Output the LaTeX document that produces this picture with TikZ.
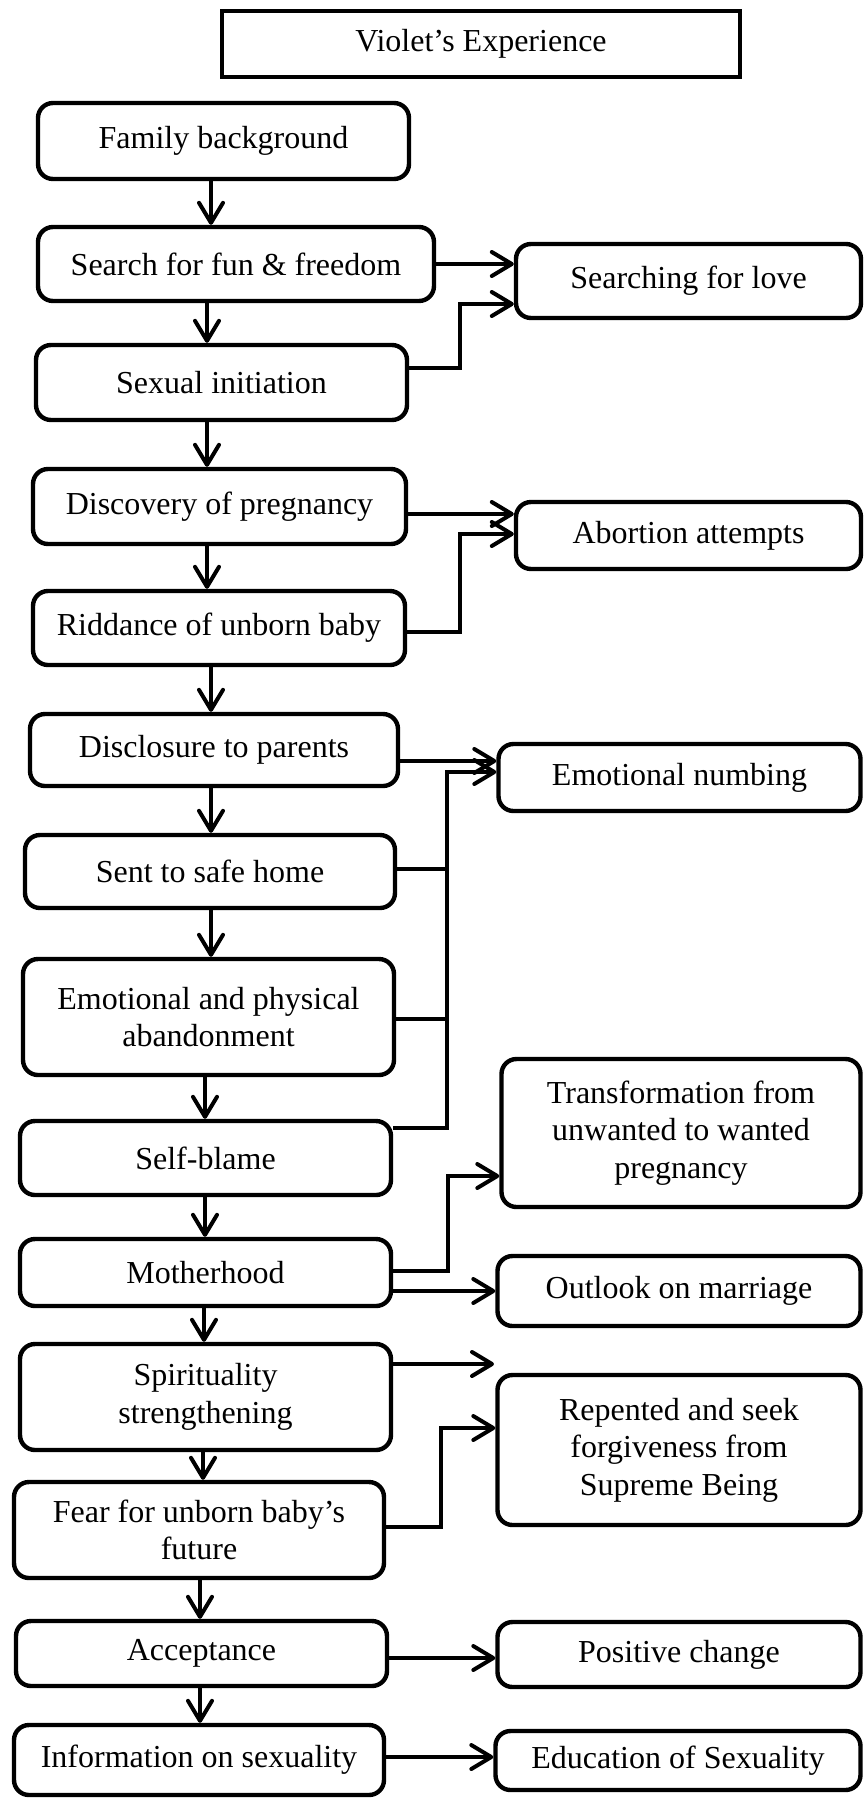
\documentclass[tikz,border=0pt]{standalone}
\usepackage{fontspec}
\setmainfont{Liberation Serif}
\usetikzlibrary{arrows.meta}
\tikzset{
  box/.style={draw,rounded corners=15pt,line width=4.4pt,align=center,inner sep=2pt,font=\fontsize{32}{37.5}\selectfont},
  arr/.style={line width=4pt,-{Straight Barb[round,length=20pt,width=24pt]}},
  link/.style={line width=4pt},
}
\begin{document}
\begin{tikzpicture}[x=1pt,y=-1pt,line join=miter]
\useasboundingbox (0,0) rectangle (865,1800);
% title
\node[box,sharp corners,minimum width=518pt,minimum height=66pt] (title) at (481,44) {Violet’s Experience};
% main column
\node[box,minimum width=371pt,minimum height=76pt] (fam) at (223.5,141) {Family background};
\node[box,minimum width=396pt,minimum height=74pt] (fun) at (236,264) {Search for fun \& freedom};
\node[box,minimum width=371pt,minimum height=75pt] (sex) at (221.5,382.5) {Sexual initiation};
\node[box,minimum width=373pt,minimum height=75pt] (disc) at (219.5,506.5) {Discovery of pregnancy};
\node[box,minimum width=372pt,minimum height=74pt] (ridd) at (219,628) {Riddance of unborn baby};
\node[box,minimum width=368pt,minimum height=72pt] (discl) at (214,750) {Disclosure to parents};
\node[box,minimum width=370pt,minimum height=73pt] (sent) at (210,871.5) {Sent to safe home};
\node[box,minimum width=371pt,minimum height=116pt] (aband) at (208.5,1017) {Emotional and physical\\abandonment};
\node[box,minimum width=371pt,minimum height=74pt] (blame) at (205.5,1158) {Self-blame};
\node[box,minimum width=371pt,minimum height=67pt] (mother) at (205.5,1272.5) {Motherhood};
\node[box,minimum width=371pt,minimum height=106pt] (spirit) at (205.5,1397) {Spirituality\\strengthening};
\node[box,minimum width=370pt,minimum height=96pt] (fear) at (199,1530) {Fear for unborn baby’s\\future};
\node[box,minimum width=371pt,minimum height=65pt] (accept) at (201.5,1653.5) {Acceptance};
\node[box,minimum width=370pt,minimum height=70pt] (info) at (199,1760) {Information on sexuality};
% right column
\node[box,minimum width=345pt,minimum height=74pt] (love) at (688.5,281) {Searching for love};
\node[box,minimum width=345pt,minimum height=67pt] (abort) at (688.5,535.5) {Abortion attempts};
\node[box,minimum width=362pt,minimum height=67pt] (numb) at (679.5,777.5) {Emotional numbing};
\node[box,minimum width=359pt,minimum height=148pt] (trans) at (681,1133) {Transformation from\\unwanted to wanted\\pregnancy};
\node[box,minimum width=363pt,minimum height=70pt] (outlook) at (679,1291) {Outlook on marriage};
\node[box,minimum width=363pt,minimum height=150pt] (repent) at (679,1450) {Repented and seek\\forgiveness from\\Supreme Being};
\node[box,minimum width=363pt,minimum height=65pt] (posit) at (679,1654.5) {Positive change};
\node[box,minimum width=365pt,minimum height=59pt] (edu) at (678,1760.5) {Education of Sexuality};
\coordinate (spfree) at (494,1364);
% down arrows
\draw[arr] (fam.south -| 211,0) -- (fun.north -| 211,0);
\draw[arr] (fun.south -| 207,0) -- (sex.north -| 207,0);
\draw[arr] (sex.south -| 207,0) -- (disc.north -| 207,0);
\draw[arr] (disc.south -| 207,0) -- (ridd.north -| 207,0);
\draw[arr] (ridd.south -| 211,0) -- (discl.north -| 211,0);
\draw[arr] (discl.south -| 211,0) -- (sent.north -| 211,0);
\draw[arr] (sent.south -| 211,0) -- (aband.north -| 211,0);
\draw[arr] (aband.south -| 205,0) -- (blame.north -| 205,0);
\draw[arr] (blame.south -| 205,0) -- (mother.north -| 205,0);
\draw[arr] (mother.south -| 204,0) -- (spirit.north -| 204,0);
\draw[arr] (spirit.south -| 203,0) -- (fear.north -| 203,0);
\draw[arr] (fear.south -| 200,0) -- (accept.north -| 200,0);
\draw[arr] (accept.south -| 200,0) -- (info.north -| 200,0);
% side arrows
\draw[arr] (fun.east) -- (fun.east -| love.west);
\draw[arr] (sex.east |- 0,368) -| (460,304) -- (love.west |- 0,304);
\draw[arr] (disc.east |- 0,514) -- (abort.west |- 0,514);
\draw[arr] (ridd.east |- 0,632) -| (460,534) -- (abort.west |- 0,534);
\draw[arr] (discl.east |- 0,761) -- (numb.west |- 0,761);
\draw[arr] (blame.east |- 0,1128) -| (447,772) -- (numb.west |- 0,772);
\draw[link] (sent.east |- 0,869) -- (447,869);
\draw[link] (aband.east |- 0,1019) -- (447,1019);
\draw[arr] (mother.east |- 0,1271) -| (448,1176) -- (trans.west |- 0,1176);
\draw[arr] (mother.east |- 0,1291) -- (outlook.west |- 0,1291);
\draw[arr] (spirit.east |- 0,1364) -- (spfree);
\draw[arr] (fear.east |- 0,1527) -| (441,1428) -- (repent.west |- 0,1428);
\draw[arr] (accept.east |- 0,1658) -- (posit.west |- 0,1658);
\draw[arr] (info.east |- 0,1757) -- (edu.west |- 0,1757);
\end{tikzpicture}
\end{document}
